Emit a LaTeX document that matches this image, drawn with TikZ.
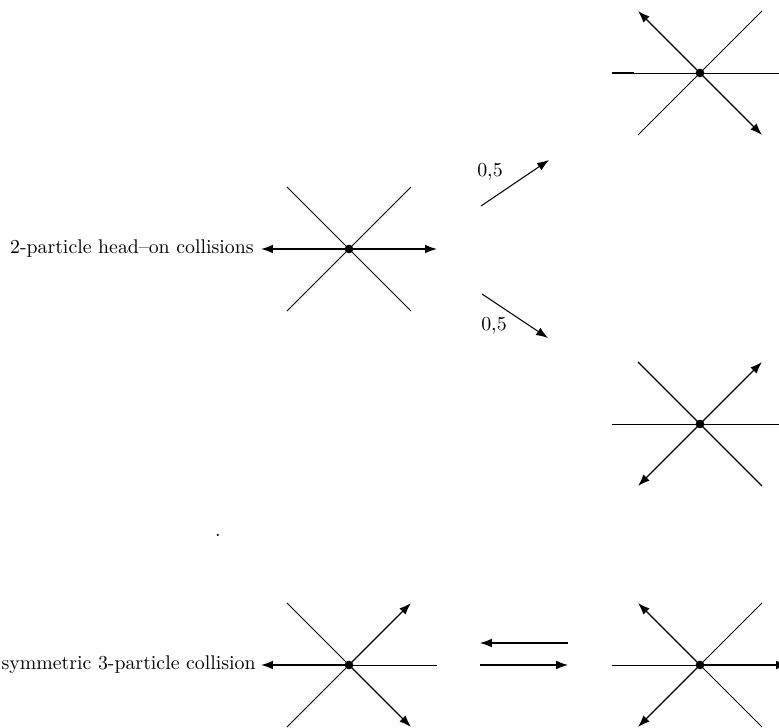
\documentclass[tikz,border=0pt]{standalone}
\usetikzlibrary{arrows.meta}
\begin{document}
\begin{tikzpicture}[x=0.53pt,y=-0.53pt,
  thinline/.style={line width=0.45pt},
  arrline/.style={line width=0.7pt,-{Latex[length=6.3pt,width=4.6pt]}},
  ctr/.style={circle,fill,inner sep=0pt,minimum size=4.6pt},
  lbl/.style={inner sep=0pt,font=\fontsize{10.5}{12.6}\selectfont}]
\useasboundingbox (0,0) rectangle (779,728);
% star definitions
\foreach \n/\cx/\cy in {a/349/249,b/700/73,c/700/424,d/349/665,e/700/665}{
  \coordinate (\n E) at (\cx+88,\cy);
  \coordinate (\n W) at (\cx-88,\cy);
  \coordinate (\n NE) at (\cx+62,\cy-62);
  \coordinate (\n NW) at (\cx-62,\cy-62);
  \coordinate (\n SE) at (\cx+62,\cy+62);
  \coordinate (\n SW) at (\cx-62,\cy+62);
}
% centres
\node[ctr] (a) at (349,249) {};
\node[ctr] (b) at (700,73) {};
\node[ctr] (c) at (700,424) {};
\node[ctr] (d) at (349,665) {};
\node[ctr] (e) at (700,665) {};
% star a: head-on
\draw[thinline] (aNW) -- (aSE);
\draw[thinline] (aNE) -- (aSW);
\draw[arrline] (a.center) -- (aE);
\draw[arrline] (a.center) -- (aW);
% star b
\draw[thinline] (bW) -- (bE);
\draw[thinline] (bNE) -- (bSW);
\draw[line width=1pt] (bW) -- ++(22,0) coordinate (bWs);
\draw[arrline] (b.center) -- (bNW);
\draw[arrline] (b.center) -- (bSE);
% star c
\draw[thinline] (cW) -- (cE);
\draw[line width=0.6pt] (cNW) -- (cSE);
\draw[arrline] (c.center) -- (cNE);
\draw[arrline] (c.center) -- (cSW);
% star d
\draw[thinline] (d.center) -- (dSW);
\draw[thinline] (d.center) -- (dNW);
\draw[thinline] (d.center) -- (dE);
\draw[arrline] (d.center) -- (dW);
\draw[arrline] (d.center) -- (dNE);
\draw[arrline] (d.center) -- (dSE);
% star e
\draw[thinline] (eW) -- (e.center);
\draw[thinline] (e.center) -- (eNE);
\draw[thinline] (e.center) -- (eSE);
\draw[arrline] (e.center) -- (eNW);
\draw[arrline] (e.center) -- (eSW);
\draw[arrline] (e.center) -- (eE);
% transition arrows
\coordinate (t1s) at (481,206); \coordinate (t1e) at (549,160);
\coordinate (t2s) at (482,294); \coordinate (t2e) at (548,338);
\draw[arrline,line width=0.55pt] (t1s) -- (t1e);
\draw[arrline,line width=0.55pt] (t2s) -- (t2e);
\node[lbl] (p1) at (490,172) {0,5};
\node[lbl] (p2) at (494,326) {0,5};
\coordinate (u1s) at (568,643); \coordinate (u1e) at (480,643);
\coordinate (u2s) at (480,665); \coordinate (u2e) at (568,665);
\draw[arrline,line width=0.55pt] (u1s) -- (u1e);
\draw[arrline,line width=0.55pt] (u2s) -- (u2e);
% labels
\node[lbl,anchor=east] (l1) at (254,249) {2-particle head--on collisions};
\node[lbl,anchor=east] (l2) at (256,665) {symmetric 3-particle collision};
\node[lbl] (dot) at (218,535) {.};
\end{tikzpicture}
\end{document}
